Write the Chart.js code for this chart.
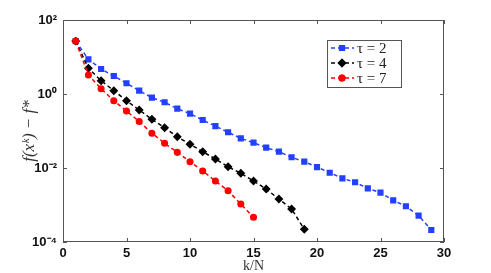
<!DOCTYPE html>
<html>
<head>
<meta charset="utf-8">
<script src="https://cdn.jsdelivr.net/npm/chart.js@4.4.1/dist/chart.umd.min.js"></script>
<style>
  html, body { margin: 0; padding: 0; background: #fff; }
  #wrap { width: 491px; height: 273px; }
</style>
</head>
<body>
<div id="wrap"><canvas id="chart"></canvas></div>
<script>
// iteration counts (k/N) for each run
const iters2 = [1, 2, 3, 4, 5, 6, 7, 8, 9, 10, 11, 12, 13, 14, 15, 16, 17, 18, 19, 20, 21, 22, 23, 24, 25, 26, 27, 28, 29];
const iters4 = [1, 2, 3, 4, 5, 6, 7, 8, 9, 10, 11, 12, 13, 14, 15, 16, 17, 18, 19];
const iters7 = [1, 2, 3, 4, 5, 6, 7, 8, 9, 10, 11, 12, 13, 14, 15];

// f(x^k) - f*
const gap2 = [26.9, 8.67, 4.74, 3.06, 1.95, 1.23, 0.794, 0.597, 0.401, 0.294, 0.198, 0.136, 0.0923, 0.0635, 0.0483,
  0.0355, 0.0276, 0.0195, 0.0148, 0.0106, 0.00746, 0.00525, 0.00411, 0.00282, 0.00215, 0.00134, 0.000923, 0.000514, 0.000211];
const gap4 = [26.9, 4.95, 2.29, 1.23, 0.659, 0.370, 0.207, 0.123, 0.0701, 0.0438, 0.0276, 0.0175, 0.0108, 0.00719,
  0.00446, 0.00270, 0.00145, 0.00078, 0.00022];
const gap7 = [26.9, 3.27, 1.39, 0.659, 0.348, 0.180, 0.0871, 0.0466, 0.0265, 0.0148, 0.00832, 0.00446, 0.00243, 0.00106, 0.000466];

const seriesLabels = ["τ = 2", "τ = 4", "τ = 7"];
const xTicks = [0, 5, 10, 15, 20, 25, 30];
const yTicks = [1e-4, 1e-2, 1, 1e2];
const yTickLabels = ["10⁻⁴", "10⁻²", "10⁰", "10²"];

const toPoints = (xs, ys) => xs.map((x, i) => ({ x: x, y: ys[i] }));

// cadre + petites graduations vers l'intérieur
const framePlugin = {
  id: "frame",
  afterDraw(chart) {
    const { ctx, chartArea: a, scales } = chart;
    ctx.save();
    ctx.strokeStyle = "#555";
    ctx.lineWidth = 1;
    ctx.strokeRect(a.left + 0.5, a.top + 0.5, a.right - a.left - 1, a.bottom - a.top - 1);
    ctx.beginPath();
    xTicks.forEach((v) => {
      const px = Math.round(scales.x.getPixelForValue(v)) + 0.5;
      ctx.moveTo(px, a.bottom); ctx.lineTo(px, a.bottom - 4);
      ctx.moveTo(px, a.top); ctx.lineTo(px, a.top + 4);
    });
    yTicks.forEach((v) => {
      const py = Math.round(scales.y.getPixelForValue(v)) + 0.5;
      ctx.moveTo(a.left, py); ctx.lineTo(a.left + 4, py);
      ctx.moveTo(a.right, py); ctx.lineTo(a.right - 4, py);
    });
    ctx.stroke();
    ctx.restore();
  },
};

// légende dans la zone du graphique
const legendPlugin = {
  id: "innerLegend",
  afterDraw(chart) {
    const { ctx } = chart;
    const box = { x: 327, y: 40, w: 74, h: 47 };
    ctx.save();
    ctx.fillStyle = "#fff";
    ctx.fillRect(box.x, box.y, box.w, box.h);
    ctx.strokeStyle = "#555";
    ctx.lineWidth = 1;
    ctx.strokeRect(box.x + 0.5, box.y + 0.5, box.w, box.h);
    chart.data.datasets.forEach((ds, i) => {
      const y = 48 + i * 15;
      ctx.strokeStyle = ds.borderColor;
      ctx.lineWidth = 1.5;
      ctx.setLineDash(ds.borderDash);
      ctx.beginPath();
      ctx.moveTo(331, y); ctx.lineTo(354, y);
      ctx.stroke();
      ctx.setLineDash([]);
      Chart.helpers.drawPoint(ctx, {
        pointStyle: ds.pointStyle, radius: ds.pointRadius, borderWidth: 1,
      }, 342, y);
      ctx.fillStyle = ds.pointBackgroundColor;
      ctx.strokeStyle = ds.borderColor;
      ctx.fill(); ctx.stroke();
      ctx.fillStyle = "#222";
      ctx.font = "15px 'Liberation Serif', serif";
      ctx.textBaseline = "middle";
      ctx.fillText(ds.label, 357, y + 1);
    });
    ctx.restore();
  },
};

const data = {
  datasets: [
    {
      label: seriesLabels[0],
      data: toPoints(iters2, gap2),
      borderColor: "#2340ff",
      backgroundColor: "#2340ff",
      pointBackgroundColor: "#2340ff",
      pointStyle: "rect",
      pointRadius: 3.3,
      borderWidth: 1.5,
      borderDash: [4, 3],
      order: 2,
    },
    {
      label: seriesLabels[1],
      data: toPoints(iters4, gap4),
      borderColor: "#000",
      backgroundColor: "#000",
      pointBackgroundColor: "#000",
      pointStyle: "rectRot",
      pointRadius: 3.4,
      borderWidth: 1.5,
      borderDash: [4, 3],
      order: 1,
    },
    {
      label: seriesLabels[2],
      data: toPoints(iters7, gap7),
      borderColor: "#ff0000",
      backgroundColor: "#ff0000",
      pointBackgroundColor: "#ff0000",
      pointStyle: "circle",
      pointRadius: 2.8,
      borderWidth: 1.5,
      borderDash: [4, 3],
      order: 0,
    },
  ],
};

const config = {
  type: "line",
  data: data,
  options: {
    responsive: true,
    maintainAspectRatio: false,
    animation: false,
    layout: { padding: { top: 20, right: 47, left: 0, bottom: 0 } },
    plugins: { legend: { display: false }, tooltip: { enabled: false } },
    scales: {
      x: {
        type: "linear",
        min: 0,
        max: 30,
        afterBuildTicks: (s) => { s.ticks = xTicks.map((v) => ({ value: v })); },
        afterFit: (s) => { s.height = 31; },
        grid: { display: false, drawTicks: false },
        border: { display: false },
        ticks: { padding: 4, color: "#111", font: { family: "'Liberation Sans', Arial", size: 13, weight: "bold" } },
        title: {
          display: true, text: "k/N", color: "#333",
          padding: 0,
          font: { family: "'Liberation Serif', serif", size: 14, lineHeight: 1 },
        },
      },
      y: {
        type: "logarithmic",
        min: 1e-4,
        max: 1e2,
        afterBuildTicks: (s) => { s.ticks = yTicks.map((v) => ({ value: v })); },
        afterFit: (s) => { s.width = 63; },
        grid: { display: false, drawTicks: false },
        border: { display: false },
        ticks: {
          padding: 6, color: "#111",
          font: { family: "'Liberation Sans', Arial", size: 13, weight: "bold" },
          callback: (v) => yTickLabels[yTicks.indexOf(v)] ?? "",
        },
        title: {
          display: true, text: "f(xᵏ) − f*", color: "#333",
          padding: { top: 21, bottom: 0 },
          font: { family: "'Liberation Serif', 'DejaVu Serif', serif", size: 17, style: "italic", lineHeight: 1 },
        },
      },
    },
  },
  plugins: [framePlugin, legendPlugin],
};

new Chart(document.getElementById("chart"), config);
</script>
</body>
</html>
